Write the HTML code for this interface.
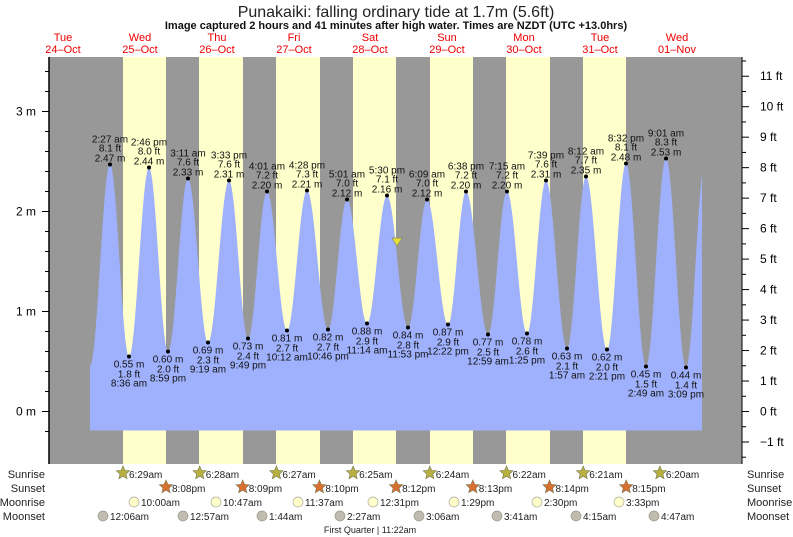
<!DOCTYPE html>
<html><head><meta charset="utf-8"><style>
body{margin:0;background:#fff;}
svg{display:block;font-family:"Liberation Sans",sans-serif;}
</style></head><body>
<svg id="s" width="793" height="537" xmlns="http://www.w3.org/2000/svg">
<text x="396" y="17" font-size="16" text-anchor="middle" fill="#222">Punakaiki: falling  ordinary tide at 1.7m (5.6ft)</text>
<text x="396" y="29" font-size="11" font-weight="bold" text-anchor="middle" fill="#111">Image captured 2 hours and 41 minutes after high water. Times are NZDT (UTC +13.0hrs)</text>
<g id="g"></g>
</svg>
<script>
const NS="http://www.w3.org/2000/svg",g=document.getElementById('g');
function el(t,a,txt){const e=document.createElementNS(NS,t);for(const k in a)e.setAttribute(k,a[k]);if(txt!==undefined)e.textContent=txt;g.appendChild(e);return e;}
const L=49,R=742,T=57,B=464;
const Y=m=>411.5-100*m;
el('rect',{x:L,y:T,width:R-L,height:B-T,fill:'#989898'});
[[123,166],[199,243],[276,320],[353,396],[430,473],[506,550],[583,626]].forEach(([a,b])=>el('rect',{x:a,y:T,width:b-a,height:B-T,fill:'#ffffcc'}));
const ex=[[90,0.46],[110,2.47],[129,0.55],[149,2.44],[168,0.60],[188,2.33],[208,0.69],[229,2.31],[248,0.73],[267,2.20],[287,0.81],[307,2.21],[328,0.82],[347,2.12],[367,0.88],[387,2.16],[408,0.84],[427,2.12],[448,0.87],[466,2.20],[488,0.77],[507,2.20],[527,0.78],[546,2.31],[567,0.63],[586,2.35],[607,0.62],[626,2.48],[646,0.45],[666,2.53],[686,0.44],[705,2.5]];
let d=`M90,${Y(-0.19)} L90,${Y(0.46)}`;
for(let i=0;i<ex.length-1;i++){const[a,h1]=ex[i],[b,h2]=ex[i+1];for(let x=a+0.5;x<=b;x+=0.5){if(x>702)break;const t=(x-a)/(b-a);const h=h1+(h2-h1)*(1-Math.cos(Math.PI*t))/2;d+=` L${x},${Y(h).toFixed(1)}`;}}
d+=` L702,${Y(-0.19)} Z`;
el('path',{d,fill:'#9fb1fc'});
el('line',{x1:L,y1:T,x2:L,y2:B,stroke:'#000','stroke-width':1.5});
el('line',{x1:R,y1:T,x2:R,y2:B,stroke:'#000','stroke-width':1});
for(let m=-0.2;m<=3.6;m+=0.2){const y=Y(m);if(y<T||y>B)continue;const maj=Math.abs(m-Math.round(m))<0.01;el('line',{x1:maj?L-7:L-4,y1:y,x2:L,y2:y,stroke:'#000'});if(maj)el('text',{x:36,y:y+4,'font-size':12,'text-anchor':'end',fill:'#000'},Math.round(m)+' m');}
for(let f=-1.5;f<=11.5;f+=0.5){const y=Y(f*0.3048);if(y<T||y>B)continue;const maj=Number.isInteger(f);el('line',{x1:R,y1:y,x2:maj?R+7:R+4,y2:y,stroke:'#000'});if(maj)el('text',{x:760,y:y+4,'font-size':12,fill:'#000'},(f<0?'\u22121':f)+' ft');}
[['Tue','24\u2013Oct',63],['Wed','25\u2013Oct',140],['Thu','26\u2013Oct',217],['Fri','27\u2013Oct',294],['Sat','28\u2013Oct',370],['Sun','29\u2013Oct',447],['Mon','30\u2013Oct',524],['Tue','31\u2013Oct',600],['Wed','01\u2013Nov',677]].forEach(([a,b,x])=>{el('text',{x,y:41,'font-size':11,'text-anchor':'middle',fill:'#e00'},a);el('text',{x,y:53,'font-size':11,'text-anchor':'middle',fill:'#e00'},b);});
const lab=[["2:27 am","8.1 ft"],["8:36 am","1.8 ft"],["2:46 pm","8.0 ft"],["8:59 pm","2.0 ft"],["3:11 am","7.6 ft"],["9:19 am","2.3 ft"],["3:33 pm","7.6 ft"],["9:49 pm","2.4 ft"],["4:01 am","7.2 ft"],["10:12 am","2.7 ft"],["4:28 pm","7.3 ft"],["10:46 pm","2.7 ft"],["5:01 am","7.0 ft"],["11:14 am","2.9 ft"],["5:30 pm","7.1 ft"],["11:53 pm","2.8 ft"],["6:09 am","7.0 ft"],["12:22 pm","2.9 ft"],["6:38 pm","7.2 ft"],["12:59 am","2.5 ft"],["7:15 am","7.2 ft"],["1:25 pm","2.6 ft"],["7:39 pm","7.6 ft"],["1:57 am","2.1 ft"],["8:12 am","7.7 ft"],["2:21 pm","2.0 ft"],["8:32 pm","8.1 ft"],["2:49 am","1.5 ft"],["9:01 am","8.3 ft"],["3:09 pm","1.4 ft"]];
for(let i=1;i<=30;i++){const[x,h]=ex[i],[tm,ft]=lab[i-1],y=Y(h),ms=h.toFixed(2)+' m';el('circle',{cx:x,cy:y,r:2,fill:'#000'});const o={'font-size':10,'text-anchor':'middle',fill:'#111'};
if(i%2){el('text',{...o,x,y:y-22},tm);el('text',{...o,x,y:y-13},ft);el('text',{...o,x,y:y-3},ms);}
else{el('text',{...o,x,y:y+11},ms);el('text',{...o,x,y:y+21},ft);el('text',{...o,x,y:y+30},tm);}}
el('path',{d:'M392,238 L402,238 L397,246 Z',fill:'#e8e030',stroke:'#886','stroke-width':0.7});
const rows=[['Sunrise',478],['Sunset',492],['Moonrise',506],['Moonset',520]];
rows.forEach(([n,y])=>{el('text',{x:45,y,'font-size':11,'text-anchor':'end',fill:'#222'},n);el('text',{x:747,y,'font-size':11,fill:'#222'},n);});
function star(cx,cy,f){let p='';for(let k=0;k<10;k++){const r=k%2?3.2:7,a=-Math.PI/2+k*Math.PI/5;p+=(k?'L':'M')+(cx+r*Math.cos(a)).toFixed(1)+','+(cy+r*Math.sin(a)).toFixed(1);}el('path',{d:p+'Z',fill:f,stroke:'#775','stroke-width':0.6});}
const sr=['6:29am','6:28am','6:27am','6:25am','6:24am','6:22am','6:21am','6:20am'],ss=['8:08pm','8:09pm','8:10pm','8:12pm','8:13pm','8:14pm','8:15pm'],mr=['10:00am','10:47am','11:37am','12:31pm','1:29pm','2:30pm','3:33pm'],ms2=['12:06am','12:57am','1:44am','2:27am','3:06am','3:41am','4:15am','4:47am'];
const day=76.7;
sr.forEach((t,i)=>{const x=123+i*day;star(x,473,'#b8b040');el('text',{x:x+6,y:478,'font-size':10,fill:'#222'},t);});
ss.forEach((t,i)=>{const x=166+i*day;star(x,487,'#d87030');el('text',{x:x+6,y:492,'font-size':10,fill:'#222'},t);});
const mrx=[134,216,298,373,454,537,619];
mr.forEach((t,i)=>{const x=mrx[i];el('circle',{cx:x,cy:502,r:5,fill:'#ffffcc',stroke:'#aa9','stroke-width':0.7});el('text',{x:x+7,y:506,'font-size':10,fill:'#222'},t);});
const msx=[103,183,262,340,419,497,576,654];
ms2.forEach((t,i)=>{const x=msx[i];el('circle',{cx:x,cy:516,r:5,fill:'#c0bcb0',stroke:'#998','stroke-width':0.7});el('text',{x:x+7,y:520,'font-size':10,fill:'#222'},t);});
el('text',{x:370,y:533,'font-size':9,'text-anchor':'middle',fill:'#222'},'First Quarter | 11:22am');
</script>
</body></html>
